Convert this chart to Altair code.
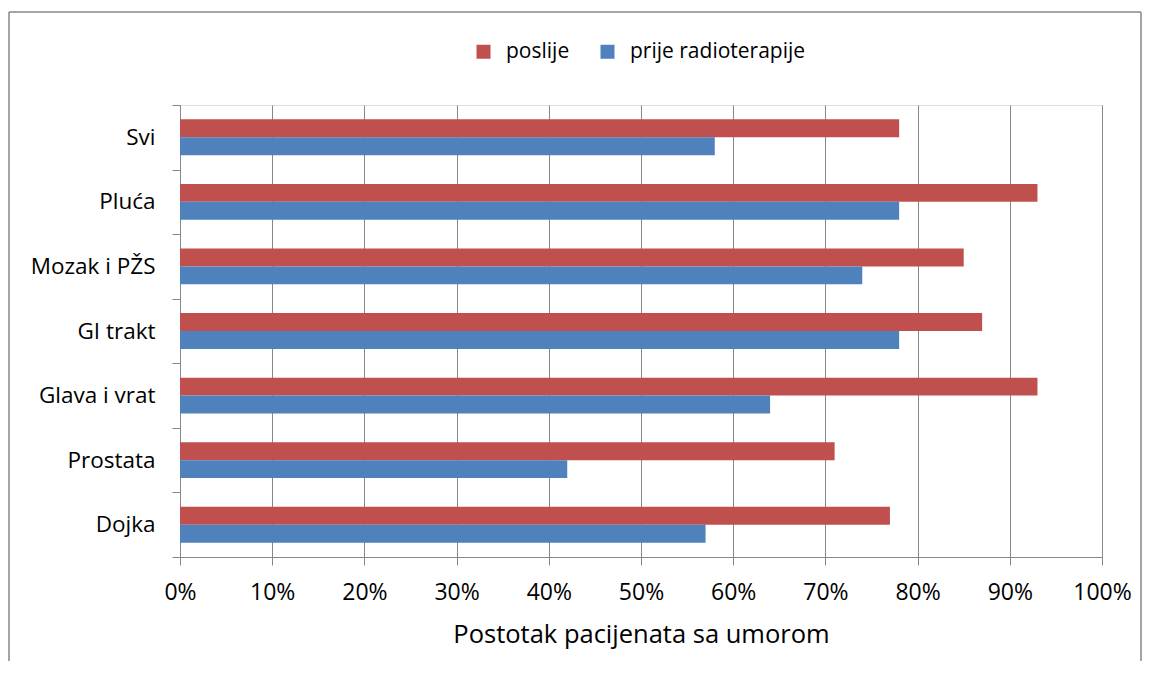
import altair as alt
import pandas as pd

categories = ["Svi", "Pluća", "Mozak i PŽS", "GI trakt", "Glava i vrat", "Prostata", "Dojka"]
poslije = [78, 93, 85, 87, 93, 71, 77]
prije = [58, 78, 74, 78, 64, 42, 57]
series = ["poslije", "prije radioterapije"]
colors = ["#C0504D", "#4F81BD"]
x_ticks = [0, 10, 20, 30, 40, 50, 60, 70, 80, 90, 100]
x_title = "Postotak pacijenata sa umorom"

rows = []
for c, a, b in zip(categories, poslije, prije):
    rows.append({"kategorija": c, "serija": series[0], "vrijednost": a})
    rows.append({"kategorija": c, "serija": series[1], "vrijednost": b})
df = pd.DataFrame(rows)

FONT = "Open Sans"
GRAY = "#878787"

bars = alt.Chart(df).mark_bar().encode(
    y=alt.Y(
        "kategorija:N",
        sort=categories,
        scale=alt.Scale(paddingInner=0, paddingOuter=0),
        axis=alt.Axis(
            title=None, tickBand="extent", ticks=True, tickSize=8, tickColor=GRAY,
            domainColor=GRAY, labelFont=FONT, labelFontSize=22.5, labelColor="#000000",
            labelPadding=17, grid=False, labelLimit=0,
        ),
    ),
    yOffset=alt.YOffset("serija:N", sort=series, scale=alt.Scale(paddingInner=0, paddingOuter=0.8)),
    x=alt.X(
        "vrijednost:Q",
        scale=alt.Scale(domain=[0, 100], nice=False),
        axis=alt.Axis(
            values=x_ticks, labelExpr="datum.value + '%'", title=x_title, labelFlush=False,
            grid=True, gridColor=GRAY, tickSize=8, tickColor=GRAY, domainColor=GRAY,
            labelFont=FONT, labelFontSize=23, labelColor="#000000", labelPadding=16,
            titleFont=FONT, titleFontSize=25.5, titleFontWeight="normal", titleColor="#000000",
            titlePadding=18,
        ),
    ),
    color=alt.Color(
        "serija:N",
        sort=series,
        scale=alt.Scale(domain=series, range=colors),
        legend=alt.Legend(
            orient="none", legendX=293, legendY=-64, direction="horizontal", title=None,
            symbolType="square", symbolSize=196, symbolStrokeWidth=0,
            labelFont=FONT, labelFontSize=21, labelColor="#000000", labelOffset=12,
            columnPadding=27, labelLimit=0,
        ),
    ),
)

frame_df = pd.DataFrame({"k": [0]})
frame_top = alt.Chart(frame_df).mark_rule(color=GRAY, strokeWidth=1.5).encode(
    x=alt.value(-171), x2=alt.value(961), y=alt.value(-93)
)
frame_left = alt.Chart(frame_df).mark_rule(color=GRAY, strokeWidth=1.5).encode(
    x=alt.value(-171), y=alt.value(-93), y2=alt.value(700)
)
frame_right = alt.Chart(frame_df).mark_rule(color=GRAY, strokeWidth=1.5).encode(
    x=alt.value(961), y=alt.value(-93), y2=alt.value(700)
)

chart = alt.layer(bars, frame_top, frame_left, frame_right).properties(
    width=922,
    height=452,
    autosize=alt.AutoSizeParams(type="none"),
    padding={"left": 172, "top": 97, "right": 41, "bottom": 104},
).configure_view(stroke=None).configure(background="white")

chart.save("out.html", embed_options={"renderer": "svg", "actions": False})
